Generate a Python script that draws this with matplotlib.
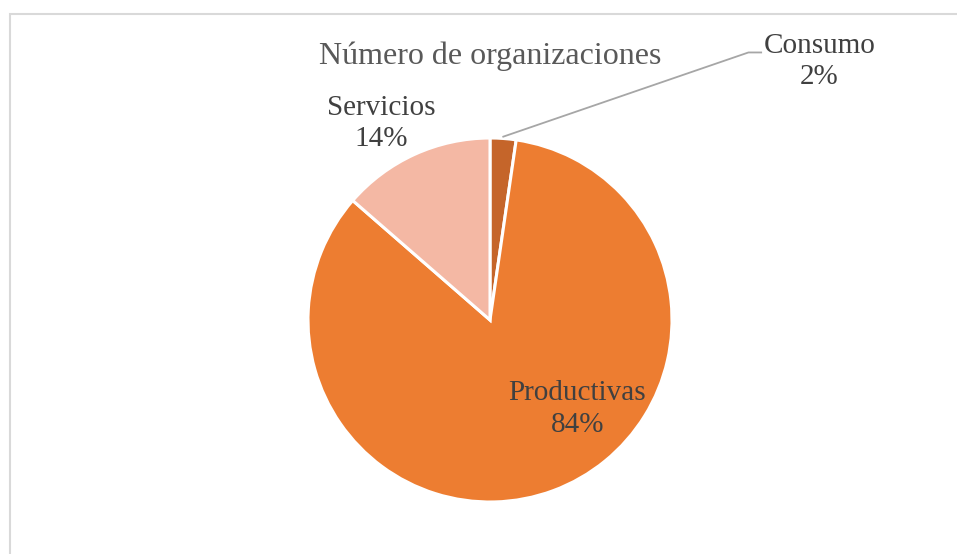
import numpy as np
import matplotlib
matplotlib.use("Agg")
import matplotlib.pyplot as plt
from matplotlib.patches import Rectangle

# datos
categorias = ["Consumo", "Productivas", "Servicios"]
porcentajes = [2.3, 84.1, 13.6]
colores = ["#C5652A", "#ED7D31", "#F4B8A4"]
titulo = "Número de organizaciones"

plt.rcParams["font.family"] = ["Liberation Serif", "DejaVu Serif"]

W, H = 957, 554
fig = plt.figure(figsize=(W / 100, H / 100), dpi=100)

# marco gris (solo se ven borde superior e izquierdo)
fig.patches.append(Rectangle((9.5 / W, -0.1), 1.2, 1.1 - 14.5 / H, transform=fig.transFigure,
                             fill=False, edgecolor="#D9D9D9", linewidth=1.5))

cx, cy, r = 490, 320, 182
ax = fig.add_axes([(cx - r) / W, (H - cy - r) / H, 2 * r / W, 2 * r / H])
wedges, _ = ax.pie(porcentajes, colors=colores, startangle=90, counterclock=False,
                   wedgeprops=dict(edgecolor="white", linewidth=2.2), radius=1)
ax.set_xlim(-1, 1)
ax.set_ylim(-1, 1)
ax.set_aspect("equal")
ax.axis("off")

etiquetas = [f"{c}\n{p:.0f}%" for c, p in zip(categorias, porcentajes)]
pos = [(1.81, 1.42), (0.48, -0.49), (-0.60, 1.08)]
for txt, (x, y) in zip(etiquetas, pos):
    ax.text(x, y, txt, ha="center", va="center", fontsize=21, color="#404040",
            linespacing=1.28, clip_on=False)

# linea guia para Consumo
w = wedges[0]
mid = np.deg2rad((w.theta1 + w.theta2) / 2)
x0, y0 = 1.01 * np.cos(mid), 1.01 * np.sin(mid)
ax.plot([x0, 1.42, 1.49], [y0, 1.47, 1.47], color="#A6A6A6", linewidth=1.3, clip_on=False)

fig.text(cx / W, 1 - 56 / H, titulo, ha="center", va="center", fontsize=23, color="#595959")

fig.savefig("out.png", dpi=100)
